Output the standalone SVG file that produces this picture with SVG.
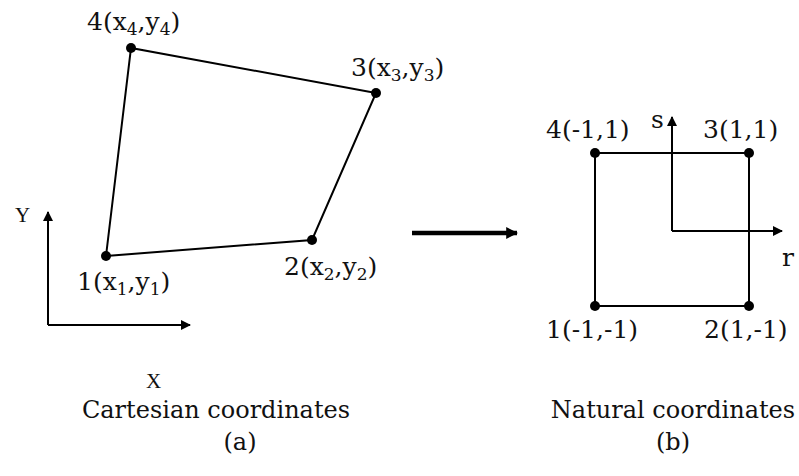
<svg xmlns="http://www.w3.org/2000/svg" width="799" height="476" viewBox="0 0 799 476">
<style>
.t{font-family:"DejaVu Serif","Liberation Serif",serif;font-size:24px;fill:#111}
.lb{font-size:25px}
.sub{font-size:17px}
.ax{font-family:"Liberation Serif",serif;font-size:21px;fill:#111}
.ln{stroke:#000;stroke-width:2;fill:none}
.dot{fill:#000}
</style>
<defs>
<marker id="ah" viewBox="0 0 10 10" refX="9" refY="5" markerWidth="10" markerHeight="10" markerUnits="userSpaceOnUse" orient="auto">
<path d="M0,0 L10,5 L0,10 Z" fill="#000"/>
</marker>
<marker id="bh" viewBox="0 0 10 10" refX="9" refY="5" markerWidth="12" markerHeight="12" markerUnits="userSpaceOnUse" orient="auto">
<path d="M0,0 L10,5 L0,10 Z" fill="#000"/>
</marker>
</defs>
<g id="connectors">
<polygon class="ln" points="106,256 312,240 376,93 131,48"/>
<line class="ln" x1="48" y1="325" x2="48" y2="212" marker-end="url(#ah)"/>
<line class="ln" x1="48" y1="325" x2="190" y2="325" marker-end="url(#ah)"/>
<line x1="412" y1="233" x2="517" y2="233" stroke="#000" stroke-width="4.5" marker-end="url(#bh)"/>
<rect class="ln" x="595" y="153" width="154" height="153"/>
<line class="ln" x1="672" y1="231" x2="672" y2="117" marker-end="url(#ah)"/>
<line class="ln" x1="672" y1="231" x2="782" y2="231" marker-end="url(#ah)"/>
</g>
<g id="node1"><circle class="dot" cx="106" cy="256" r="5"/><text class="t lb" x="77" y="290">1(x<tspan class="sub" dy="5">1</tspan><tspan dy="-5">,y</tspan><tspan class="sub" dy="5">1</tspan><tspan dy="-5">)</tspan></text></g>
<g id="node2"><circle class="dot" cx="312" cy="240" r="5"/><text class="t lb" x="284" y="275">2(x<tspan class="sub" dy="5">2</tspan><tspan dy="-5">,y</tspan><tspan class="sub" dy="5">2</tspan><tspan dy="-5">)</tspan></text></g>
<g id="node3"><circle class="dot" cx="376" cy="93" r="5"/><text class="t lb" x="351" y="76">3(x<tspan class="sub" dy="5">3</tspan><tspan dy="-5">,y</tspan><tspan class="sub" dy="5">3</tspan><tspan dy="-5">)</tspan></text></g>
<g id="node4"><circle class="dot" cx="131" cy="48" r="5"/><text class="t lb" x="87" y="30">4(x<tspan class="sub" dy="5">4</tspan><tspan dy="-5">,y</tspan><tspan class="sub" dy="5">4</tspan><tspan dy="-5">)</tspan></text></g>
<g id="axisY"><text class="ax" x="15" y="222">Y</text></g>
<g id="axisX"><text class="ax" x="146" y="388">X</text></g>
<g id="nat4"><circle class="dot" cx="595" cy="153" r="5"/><text class="t lb" x="546" y="138">4(-1,1)</text></g>
<g id="nat3"><circle class="dot" cx="749" cy="153" r="5"/><text class="t lb" x="703" y="138">3(1,1)</text></g>
<g id="nat1"><circle class="dot" cx="595" cy="306" r="5"/><text class="t lb" x="546" y="338">1(-1,-1)</text></g>
<g id="nat2"><circle class="dot" cx="749" cy="306" r="5"/><text class="t lb" x="704" y="338">2(1,-1)</text></g>
<g id="axisS"><text class="t lb" x="651" y="128">s</text></g>
<g id="axisR"><text class="t lb" x="782" y="266">r</text></g>
<g id="captionA"><text class="t" x="216" y="418" text-anchor="middle">Cartesian coordinates</text><text class="t" x="240" y="450" text-anchor="middle">(a)</text></g>
<g id="captionB"><text class="t" x="673" y="418" text-anchor="middle">Natural coordinates</text><text class="t" x="673" y="450" text-anchor="middle">(b)</text></g>
</svg>
